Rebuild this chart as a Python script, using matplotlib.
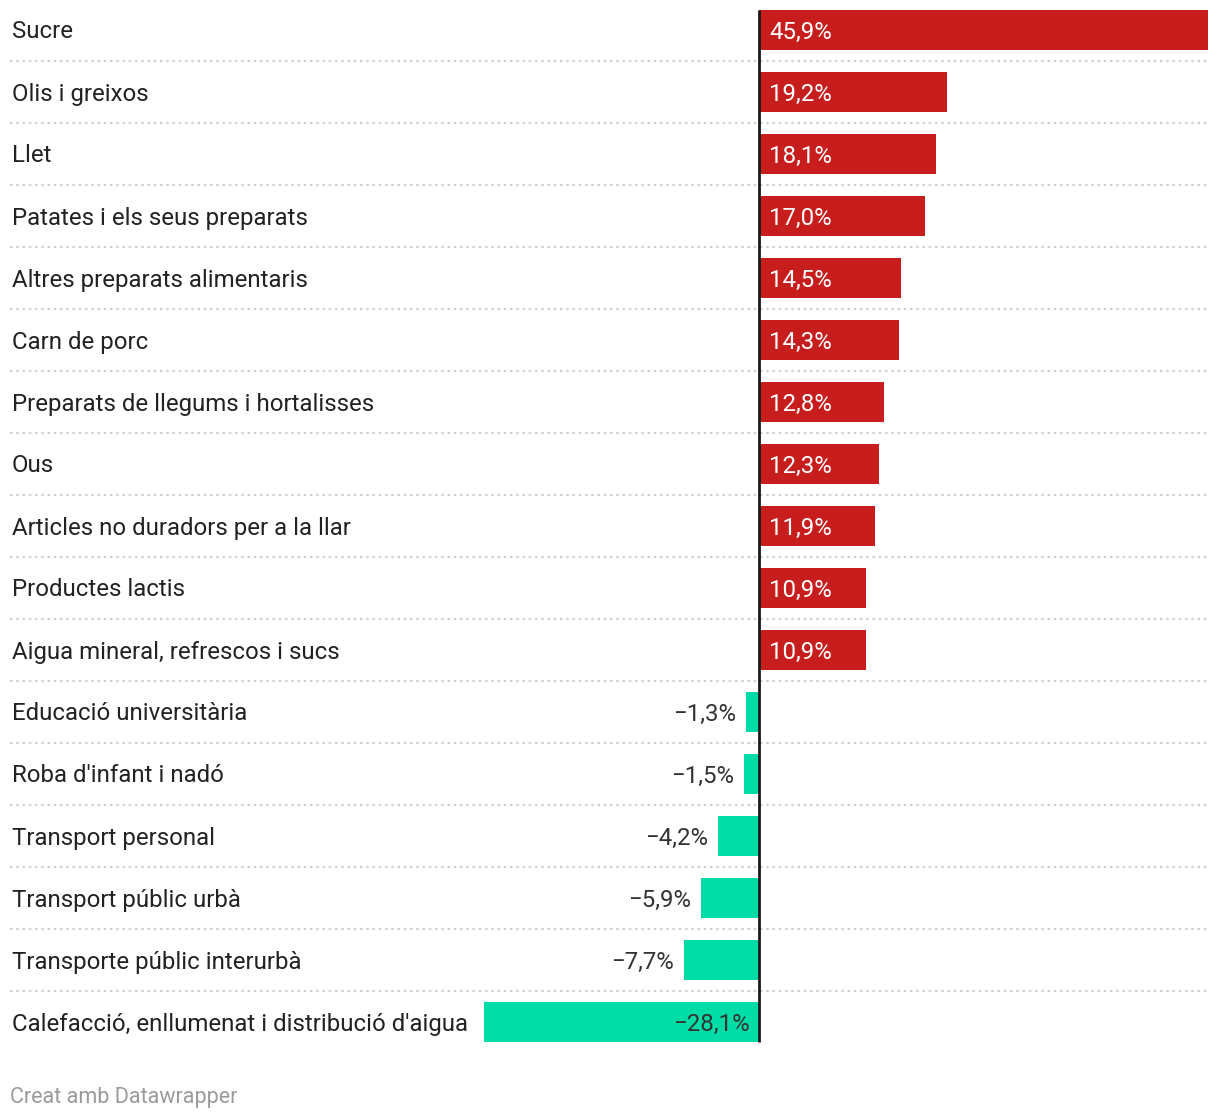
import matplotlib.pyplot as plt
import matplotlib.transforms as mtransforms

plt.rcParams['font.family'] = ['Roboto', 'DejaVu Sans']

categories = ['Sucre', 'Olis i greixos', 'Llet', 'Patates i els seus preparats',
              'Altres preparats alimentaris', 'Carn de porc',
              'Preparats de llegums i hortalisses', 'Ous',
              'Articles no duradors per a la llar', 'Productes lactis',
              'Aigua mineral, refrescos i sucs', 'Educació universitària',
              "Roba d'infant i nadó", 'Transport personal',
              'Transport públic urbà', 'Transporte públic interurbà',
              "Calefacció, enllumenat i distribució d'aigua"]
values = [45.9, 19.2, 18.1, 17.0, 14.5, 14.3, 12.8, 12.3, 11.9, 10.9, 10.9,
          -1.3, -1.5, -4.2, -5.9, -7.7, -28.1]

W, H = 1220, 1118
fig = plt.figure(figsize=(W / 100, H / 100), dpi=100)

# axes spans px 10..1208 horizontally, 0..1054 vertically
left_px, right_px, zero_px = 10, 1208, 759
scale = (right_px - zero_px) / max(values)
xmin = -(zero_px - left_px) / scale
ax = fig.add_axes([left_px / W, 1 - 1054 / H, (right_px - left_px) / W, 1054 / H])
ax.set_xlim(xmin, max(values))
n = len(categories)
ax.set_ylim((1054 - 29.5) / 62, -29.5 / 62)
ax.axis('off')

red, green = '#c71e1d', '#00dca6'
cols = [red if v > 0 else green for v in values]
ax.barh(range(n), values, height=40 / 62, color=cols, zorder=2)

fs = 17.3


def shift(dx):
    return ax.transData + mtransforms.ScaledTranslation(dx / 100, 0, fig.dpi_scale_trans)


for i, (c, v) in enumerate(zip(categories, values)):
    ax.text(xmin, i, c, ha='left', va='center_baseline', fontsize=fs, color='#222222',
            transform=shift(2))
    lab = f'{v:.1f}%'.replace('.', ',').replace('-', '\u2212')
    if v > 0:
        ax.text(0, i, lab, ha='left', va='center_baseline', fontsize=fs, color='white',
                transform=shift(10))
    elif v < -20:
        ax.text(0, i, lab, ha='right', va='center_baseline', fontsize=fs, color='#333333',
                transform=shift(-9))
    else:
        ax.text(v, i, lab, ha='right', va='center_baseline', fontsize=fs, color='#333333',
                transform=shift(-10))
    if i < n - 1:
        ax.axhline(i + 0.5, color='#d0d0d0', lw=1.5, linestyle=(0, (1.2, 1.8)), zorder=1)

ax.plot([0, 0], [-0.31, n - 1 + 0.33], color='#1a1a1a', lw=2, zorder=3, solid_capstyle='butt')

fig.text(10 / W, 1 - 1095 / H, 'Creat amb Datawrapper', ha='left', va='center_baseline',
         fontsize=15.5, color='#9a9a9a')

fig.savefig('out.png', dpi=100)
